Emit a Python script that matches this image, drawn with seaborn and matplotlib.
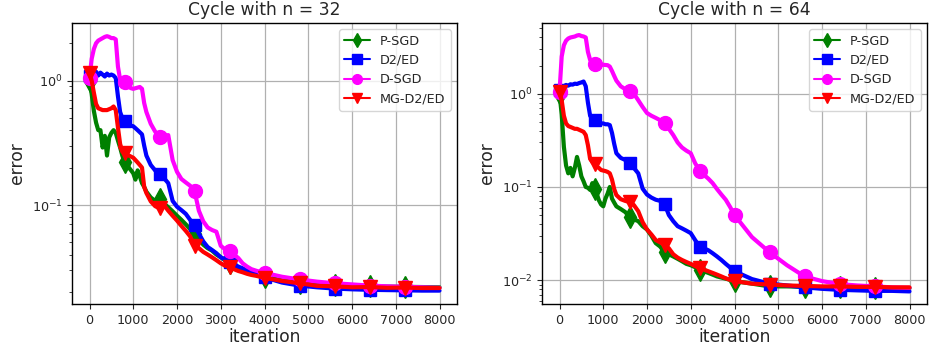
import numpy as np
import pandas as pd
import matplotlib
matplotlib.use("Agg")
import matplotlib.pyplot as plt
import seaborn as sns

# ---------------- data ----------------
ITER = [0, 50, 100, 150, 200, 250, 300, 350, 400, 450, 500, 550, 600, 650, 700, 750,
        800, 850, 900, 950, 1000, 1050, 1100, 1150, 1200, 1250,
        1300, 1400, 1500, 1600, 1700, 1800, 1900, 2000, 2100, 2200, 2300, 2400, 2500,
        2600, 2700, 2800, 2900, 3000, 3100, 3200, 3300, 3400, 3500, 3600, 3700, 3800, 3900,
        4000, 4400, 4800, 5200, 5600, 6000, 6400, 6800, 7200, 7600, 8000]

SERIES = ["P-SGD", "D2/ED", "D-SGD", "MG-D2/ED"]
TITLES = ["Cycle with n = 32", "Cycle with n = 64"]

# ---- n = 32 ----
psgd_32 = [1.0, 0.78, 0.57, 0.46, 0.40, 0.40, 0.29, 0.36, 0.25, 0.35, 0.38, 0.40, 0.38, 0.33, 0.29, 0.25,
           0.22, 0.23, 0.20, 0.19, 0.18, 0.16, 0.19, 0.17, 0.15, 0.14,
           0.128, 0.115, 0.108, 0.112, 0.103, 0.096, 0.089, 0.082, 0.076, 0.070, 0.064, 0.058, 0.053,
           0.048, 0.045, 0.043, 0.040, 0.038, 0.036, 0.034, 0.0325, 0.031, 0.030, 0.029, 0.028, 0.0275, 0.027,
           0.0265, 0.0248, 0.0237, 0.0231, 0.0228, 0.0225, 0.0223, 0.0221, 0.0220, 0.0219, 0.0218]
d2ed_32 = [1.10, 1.15, 1.12, 1.18, 1.10, 1.16, 1.12, 1.08, 1.14, 1.10, 1.12, 1.10, 1.05, 0.75, 0.56, 0.50,
           0.47, 0.455, 0.44, 0.435, 0.43, 0.415, 0.40, 0.385, 0.37, 0.30,
           0.25, 0.21, 0.19, 0.178, 0.165, 0.15, 0.108, 0.097, 0.091, 0.085, 0.076, 0.069, 0.059,
           0.051, 0.046, 0.0435, 0.041, 0.038, 0.0365, 0.035, 0.0335, 0.032, 0.031, 0.0297, 0.0288, 0.028, 0.0272,
           0.0262, 0.0238, 0.0225, 0.0218, 0.0213, 0.0210, 0.0208, 0.0207, 0.0206, 0.0205, 0.0205]
dsgd_32 = [1.05, 1.5, 1.8, 2.0, 2.1, 2.15, 2.2, 2.25, 2.28, 2.25, 2.2, 2.2, 2.15, 1.3, 1.02, 0.99,
           0.97, 0.93, 0.89, 0.87, 0.86, 0.87, 0.88, 0.89, 0.86, 0.66,
           0.56, 0.45, 0.39, 0.355, 0.36, 0.365, 0.23, 0.185, 0.162, 0.152, 0.143, 0.13, 0.09,
           0.074, 0.066, 0.063, 0.061, 0.047, 0.044, 0.0425, 0.040, 0.0375, 0.034, 0.032, 0.0305, 0.0297, 0.029,
           0.0285, 0.0265, 0.0252, 0.0242, 0.0235, 0.0230, 0.0225, 0.0222, 0.0220, 0.0218, 0.0216]
mg_32 = [1.15, 1.0, 0.8, 0.65, 0.60, 0.59, 0.58, 0.58, 0.58, 0.59, 0.60, 0.62, 0.58, 0.42, 0.31, 0.27,
         0.26, 0.255, 0.25, 0.245, 0.24, 0.23, 0.22, 0.21, 0.20, 0.14,
         0.125, 0.107, 0.098, 0.094, 0.10, 0.09, 0.082, 0.075, 0.068, 0.062, 0.056, 0.047, 0.045,
         0.042, 0.040, 0.038, 0.036, 0.034, 0.0325, 0.032, 0.0305, 0.0295, 0.0288, 0.028, 0.0274, 0.027, 0.0265,
         0.026, 0.0245, 0.0235, 0.0224, 0.0222, 0.0218, 0.0219, 0.0216, 0.0217, 0.0215, 0.0215]

# ---- n = 64 ----
psgd_64 = [1.0, 0.6, 0.27, 0.17, 0.14, 0.16, 0.13, 0.16, 0.21, 0.17, 0.13, 0.115, 0.10, 0.098, 0.093, 0.11,
           0.095, 0.085, 0.072, 0.065, 0.062, 0.075, 0.085, 0.10, 0.075, 0.068,
           0.062, 0.058, 0.054, 0.048, 0.045, 0.043, 0.038, 0.035, 0.030, 0.025, 0.023, 0.020, 0.019,
           0.018, 0.017, 0.016, 0.015, 0.0145, 0.0138, 0.0130, 0.0125, 0.0120, 0.0115, 0.0110, 0.0107, 0.0104, 0.0101,
           0.0098, 0.0092, 0.0086, 0.0086, 0.0085, 0.0084, 0.0084, 0.0083, 0.0083, 0.0082, 0.0082]
d2ed_64 = [1.10, 1.15, 1.20, 1.24, 1.22, 1.26, 1.25, 1.28, 1.27, 1.30, 1.32, 1.35, 1.20, 0.80, 0.58, 0.54,
           0.52, 0.50, 0.49, 0.48, 0.48, 0.47, 0.47, 0.46, 0.38, 0.29,
           0.23, 0.205, 0.195, 0.18, 0.16, 0.14, 0.096, 0.083, 0.077, 0.073, 0.071, 0.066, 0.050,
           0.043, 0.038, 0.036, 0.034, 0.032, 0.027, 0.023, 0.022, 0.021, 0.0195, 0.018, 0.0165, 0.015, 0.0137,
           0.0125, 0.0103, 0.0092, 0.0088, 0.0084, 0.0081, 0.0079, 0.0078, 0.0077, 0.0077, 0.0076]
dsgd_64 = [1.05, 2.5, 3.3, 3.7, 3.9, 4.0, 4.05, 4.1, 4.2, 4.25, 4.15, 4.1, 4.0, 2.8, 2.3, 2.15,
           2.1, 2.08, 2.06, 2.05, 2.04, 2.03, 2.02, 1.95, 1.75, 1.55,
           1.38, 1.2, 1.12, 1.06, 1.0, 0.85, 0.72, 0.62, 0.58, 0.55, 0.52, 0.48, 0.42,
           0.36, 0.30, 0.265, 0.245, 0.23, 0.18, 0.15, 0.135, 0.123, 0.11, 0.095, 0.083, 0.073, 0.061,
           0.050, 0.029, 0.020, 0.0145, 0.011, 0.0098, 0.0091, 0.0088, 0.0086, 0.0084, 0.0083]
mg_64 = [1.05, 0.85, 0.58, 0.48, 0.45, 0.44, 0.43, 0.42, 0.42, 0.41, 0.40, 0.39, 0.36, 0.28, 0.20, 0.185,
         0.175, 0.165, 0.16, 0.152, 0.15, 0.148, 0.145, 0.14, 0.12, 0.095,
         0.082, 0.074, 0.071, 0.069, 0.064, 0.055, 0.042, 0.035, 0.031, 0.027, 0.0255, 0.024, 0.022,
         0.019, 0.0175, 0.0165, 0.0157, 0.015, 0.0142, 0.0135, 0.013, 0.0125, 0.012, 0.0115, 0.011, 0.0105, 0.0101,
         0.0098, 0.0092, 0.0090, 0.0088, 0.0087, 0.0086, 0.0086, 0.0085, 0.0085, 0.0084, 0.0084]

DATA = [[psgd_32, d2ed_32, dsgd_32, mg_32],
        [psgd_64, d2ed_64, dsgd_64, mg_64]]

# ---------------- style ----------------
COLORS = ["green", "blue", "#ff00ff", "red"]
MARKERS = ["d", "s", "o", "v"]
MSIZES = [11, 9, 10, 10]

sns.set_style("ticks", {
    "axes.grid": True,
    "grid.color": "#b0b0b0",
    "axes.edgecolor": "black",
    "xtick.direction": "out",
    "ytick.direction": "out",
})
plt.rcParams["font.family"] = ["DejaVu Sans"]
plt.rcParams["axes.linewidth"] = 1.0
plt.rcParams["grid.linewidth"] = 0.9

fig = plt.figure(figsize=(9.30, 3.51), dpi=100)
axes_pos = [[72 / 930, 1 - 304 / 351, 385 / 930, 281 / 351],
            [542 / 930, 1 - 304 / 351, 385 / 930, 281 / 351]]
YLIMS = [(0.0160, 2.91), (0.00557, 5.72)]

it_arr = np.array(ITER)
mark_idx = [int(i) for i in np.where((it_arr % 800 == 0) & (it_arr < 8000))[0]]

for k in range(2):
    ax = fig.add_axes(axes_pos[k])
    for name, vals, c, m, ms in zip(SERIES, DATA[k], COLORS, MARKERS, MSIZES):
        df = pd.DataFrame({"iteration": ITER, "error": vals})
        sns.lineplot(data=df, x="iteration", y="error", ax=ax, color=c, linewidth=3.0,
                     marker=m, markersize=ms, markevery=mark_idx,
                     markeredgecolor=c, markeredgewidth=1.0, label=name)
    ax.set_yscale("log")
    ax.set_xlim(-400, 8400)
    ax.set_ylim(*YLIMS[k])
    ax.set_xticks([0, 1000, 2000, 3000, 4000, 5000, 6000, 7000, 8000])
    ax.grid(True, which="major", color="#b0b0b0", linewidth=0.9)
    ax.grid(False, which="minor")
    ax.tick_params(axis="both", which="major", labelsize=9.2, length=3.5, width=0.8)
    ax.tick_params(axis="y", which="minor", length=2, width=0.6)
    ax.set_title(TITLES[k], fontsize=12.3)
    ax.set_xlabel("iteration", fontsize=12.3, labelpad=1)
    ax.set_ylabel("error", fontsize=12.3)
    for sp in ax.spines.values():
        sp.set_visible(True)
        sp.set_color("black")
    leg = ax.legend(loc="upper right", fontsize=9.2, framealpha=0.8, edgecolor="#cccccc",
                    fancybox=True)
    for h in leg.legend_handles:
        h.set_linewidth(1.5)
        h.set_markersize(7)

fig.savefig("out.png", dpi=100)
